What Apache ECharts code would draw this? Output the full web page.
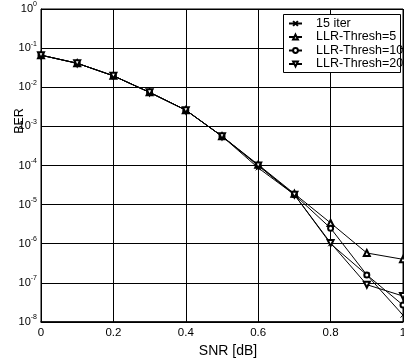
<!DOCTYPE html>
<html>
<head>
<meta charset="utf-8">
<script src="https://cdn.jsdelivr.net/npm/echarts@6/dist/echarts.min.js"></script>
<style>html,body{margin:0;padding:0;background:#fff}#c{width:404px;height:362px}</style>
</head>
<body>
<div id="c"></div>
<script>
const snr = [0, 0.1, 0.2, 0.3, 0.4, 0.5, 0.6, 0.7, 0.8, 0.9, 1.0];
const iter15 = [0.066, 0.041, 0.0196, 0.0074, 0.0026, 5.6e-4, 8.7e-5, 1.8e-5, 1.0e-6, 1.6e-7, 1.5e-8];
const llr5   = [0.066, 0.041, 0.0196, 0.0074, 0.0026, 5.6e-4, 1.05e-4, 1.9e-5, 3.4e-6, 5.8e-7, 4.0e-7];
const llr10  = [0.066, 0.041, 0.0196, 0.0074, 0.0026, 5.6e-4, 1.0e-4, 1.8e-5, 2.5e-6, 1.6e-7, 2.7e-8];
const llr20  = [0.066, 0.041, 0.0196, 0.0074, 0.0026, 5.6e-4, 1.0e-4, 1.8e-5, 1.05e-6, 9.0e-8, 4.6e-8];
const seriesNames = ['15 iter', 'LLR-Thresh=5', 'LLR-Thresh=10', 'LLR-Thresh=20'];
const xTicks = ['0', '0.2', '0.4', '0.6', '0.8', '1'];
const yTitle = 'BER';
const xTitle = 'SNR [dB]';

const FONT = '"Liberation Sans", Arial, Helvetica, sans-serif';
const chart = echarts.init(document.getElementById('c'), null, {renderer: 'canvas'});
const pair = arr => snr.map((x, i) => [x, arr[i]]);
const base = {
  type: 'line', symbolSize: 5, clip: false,
  lineStyle: {color: '#000', width: 1},
  itemStyle: {color: '#000', borderColor: '#000', borderWidth: 1},
  emphasis: {disabled: true}
};
const option = {
  animation: false,
  backgroundColor: '#fff',
  grid: {left: 41, top: 9, width: 362, height: 313, show: true, borderColor: '#000', borderWidth: 1,
    backgroundColor: 'transparent', outerBoundsMode: 'none', containLabel: false},
  xAxis: {
    type: 'value', min: 0, max: 1, interval: 0.2,
    name: xTitle, nameLocation: 'middle', nameGap: 20,
    nameTextStyle: {fontFamily: FONT, fontSize: 14, color: '#000', padding: [0, 0, 0, 12]},
    axisLine: {show: true, lineStyle: {color: '#000', width: 1.5}},
    axisTick: {show: true, inside: true, length: 3, lineStyle: {color: '#000'}},
    axisLabel: {fontFamily: FONT, fontSize: 11.5, color: '#000', margin: 5,
      formatter: v => xTicks[Math.round(v / 0.2)]},
    splitLine: {show: true, lineStyle: {color: '#000', width: 1}}
  },
  yAxis: {
    type: 'log', logBase: 10, min: 1e-8, max: 1, interval: 1,
    axisLine: {show: true, lineStyle: {color: '#000', width: 1}},
    axisTick: {show: true, inside: true, length: 3, lineStyle: {color: '#000'}},
    axisLabel: {
      margin: 4, color: '#000',
      formatter: v => '{b|10}{e|' + Math.round(Math.log10(v)) + '}',
      rich: {
        b: {fontFamily: FONT, fontSize: 11, color: '#000'},
        e: {fontFamily: FONT, fontSize: 7, color: '#000', verticalAlign: 'bottom', padding: [0, 0, 9, 0]}
      }
    },
    splitLine: {show: true, lineStyle: {color: '#000', width: 1}}
  },
  legend: {
    orient: 'vertical', left: 283, top: 14, z: 10,
    padding: [3, 0, 3, 5], itemWidth: 13, itemHeight: 6, itemGap: 0.5,
    textStyle: {fontFamily: FONT, fontSize: 12.5, color: '#000', lineHeight: 13, padding: [0, 0, 0, 9]},
    data: seriesNames
  },
  graphic: [
    {type: 'rect', z: 5, shape: {x: 283, y: 14, width: 118, height: 59}, style: {fill: '#fff', stroke: null}},
    {type: 'rect', z: 20, shape: {x: 283.5, y: 14.5, width: 117, height: 58}, style: {fill: null, stroke: '#000', lineWidth: 1}},
    {type: 'text', z: 20, x: 20, y: 121, rotation: Math.PI / 2,
      style: {text: yTitle, fill: '#000', font: '12.5px ' + FONT, align: 'center', verticalAlign: 'middle'}}
  ],
  series: [
    Object.assign({}, base, {name: seriesNames[0], data: pair(iter15), symbol: 'path://M0,0L10,10M10,0L0,10', symbolSize: 5}),
    Object.assign({}, base, {name: seriesNames[1], data: pair(llr5), symbol: 'emptyTriangle', symbolSize: 6}),
    Object.assign({}, base, {name: seriesNames[2], data: pair(llr10), symbol: 'emptyCircle', symbolSize: 5}),
    Object.assign({}, base, {name: seriesNames[3], data: pair(llr20), symbol: 'emptyTriangle', symbolRotate: 180, symbolSize: 6})
  ]
};
chart.setOption(option);
</script>
</body>
</html>
